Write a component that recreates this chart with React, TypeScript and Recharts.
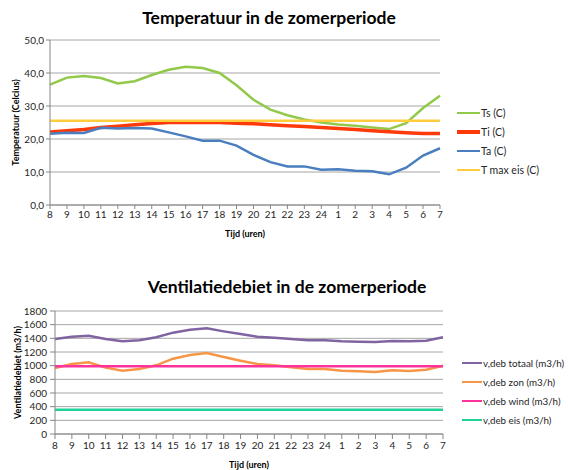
import React from "react";
import {
  LineChart,
  Line,
  XAxis,
  YAxis,
  CartesianGrid,
} from "recharts";

const hours = [
  "8", "9", "10", "11", "12", "13", "14", "15", "16", "17", "18", "19",
  "20", "21", "22", "23", "24", "1", "2", "3", "4", "5", "6", "7",
];

const ts = [
  36.5, 38.6, 39.1, 38.5, 36.8, 37.5, 39.4, 41.0, 41.9, 41.5, 40.0, 36.3,
  31.9, 28.9, 27.2, 25.9, 25.0, 24.4, 24.0, 23.5, 23.0, 24.8, 29.4, 33.1,
];
const ti = [
  22.1, 22.5, 22.9, 23.5, 23.9, 24.3, 24.7, 25.0, 25.0, 25.0, 25.0, 24.8,
  24.6, 24.3, 24.0, 23.8, 23.5, 23.2, 22.9, 22.5, 22.2, 21.9, 21.7, 21.7,
];
const ta = [
  21.6, 21.9, 21.8, 23.4, 23.2, 23.3, 23.2, 22.0, 20.8, 19.5, 19.5, 18.0,
  15.2, 13.0, 11.7, 11.7, 10.7, 10.8, 10.4, 10.2, 9.3, 11.3, 15.0, 17.2,
];
const tMaxEis = 25.5;

const debTotaal = [
  1390, 1424, 1439, 1390, 1356, 1371, 1415, 1483, 1527, 1546, 1502, 1463,
  1424, 1410, 1390, 1371, 1371, 1356, 1351, 1346, 1361, 1356, 1366, 1415,
];
const debZon = [
  966, 1024, 1049, 971, 927, 951, 1005, 1102, 1156, 1185, 1127, 1073,
  1024, 1005, 976, 951, 951, 927, 917, 907, 932, 922, 941, 1000,
];
const debWind = 990;
const debEis = 356;

const tempTicks = [0, 10, 20, 30, 40, 50];
const debTicks = [0, 200, 400, 600, 800, 1000, 1200, 1400, 1600, 1800];

const tempSeries = [
  { key: "ts", name: "Ts (C)", color: "#92c94a", width: 2.5 },
  { key: "ti", name: "Ti (C)", color: "#ff3a0a", width: 3.5 },
  { key: "ta", name: "Ta (C)", color: "#4a7ebf", width: 2.5 },
  { key: "tmax", name: "T max eis (C)", color: "#ffcc3e", width: 2.5 },
];
const debSeries = [
  { key: "totaal", name: "v,deb totaal (m3/h)", color: "#8064a2", width: 2.5 },
  { key: "zon", name: "v,deb zon (m3/h)", color: "#f79646", width: 2.5 },
  { key: "wind", name: "v,deb wind (m3/h)", color: "#ff3399", width: 2.5 },
  { key: "eis", name: "v,deb eis (m3/h)", color: "#1fd29a", width: 2.5 },
];

const tempData = hours.map((h, i) => ({
  hour: h,
  ts: ts[i],
  ti: ti[i],
  ta: ta[i],
  tmax: tMaxEis,
}));
const debData = hours.map((h, i) => ({
  hour: h,
  totaal: debTotaal[i],
  zon: debZon[i],
  wind: debWind,
  eis: debEis,
}));

const font = "Lato, 'Open Sans', sans-serif";
const axisColor = "#868686";
const gridColor = "#a6a6a6";
const textColor = "#262626";

type Series = { key: string; name: string; color: string; width: number };

const Legend = ({
  items,
  left,
  top,
  gap,
  lineLen,
  fontSize,
}: {
  items: Series[];
  left: number;
  top: number;
  gap: number;
  lineLen: number;
  fontSize: number;
}) => (
  <div style={{ position: "absolute", left, top }}>
    {items.map((s, i) => (
      <div
        key={s.key}
        style={{
          position: "absolute",
          top: i * gap - 7,
          left: 0,
          display: "flex",
          alignItems: "center",
          whiteSpace: "nowrap",
          height: 14,
        }}
      >
        <div
          style={{
            width: lineLen,
            height: s.width,
            background: s.color,
            marginRight: 1,
          }}
        />
        <span style={{ fontSize, color: textColor, fontFamily: font }}>
          {s.name}
        </span>
      </div>
    ))}
  </div>
);

const Title = ({ text, cx, cy }: { text: string; cx: number; cy: number }) => (
  <div
    style={{
      position: "absolute",
      left: cx - 200,
      width: 400,
      top: cy - 11,
      textAlign: "center",
      fontFamily: font,
      fontWeight: "bold",
      fontSize: 17.5,
      lineHeight: "22px",
      color: "#000",
    }}
  >
    {text}
  </div>
);

const tickStyle = { fontSize: 10, fill: textColor, fontFamily: font };
const labelStyle = {
  fontSize: 9,
  fontWeight: "bold",
  fill: "#000",
  fontFamily: font,
  textAnchor: "middle" as const,
};

export default function App() {
  return (
    <div
      style={{
        position: "absolute",
        left: 0,
        top: 0,
        width: 568,
        height: 470,
        background: "#fff",
        fontFamily: font,
        overflow: "hidden",
      }}
    >
      <Title text="Temperatuur in de zomerperiode" cx={269} cy={18} />
      <div style={{ position: "absolute", left: 0, top: 0 }}>
        <LineChart
          width={568}
          height={240}
          data={tempData}
          margin={{ top: 40, right: 128, bottom: 0, left: 0 }}
        >
          <CartesianGrid vertical={false} stroke={gridColor} />
          <XAxis
            dataKey="hour"
            interval={0}
            height={35}
            tick={tickStyle}
            tickSize={4}
            tickMargin={2}
            stroke={axisColor}
            label={{
              value: "Tijd (uren)",
              position: "insideBottom",
              offset: 3,
              style: labelStyle,
            }}
          />
          <YAxis
            width={50}
            domain={[0, 50]}
            ticks={tempTicks}
            interval={0}
            tickFormatter={(v: number) => v.toFixed(1).replace(".", ",")}
            tick={tickStyle}
            tickSize={4}
            tickMargin={2}
            stroke={axisColor}
            label={{
              value: "Temperatuur (Celcius)",
              angle: -90,
              position: "insideLeft",
              offset: 16,
              style: labelStyle,
            }}
          />
          {tempSeries.map((s) => (
            <Line
              key={s.key}
              dataKey={s.key}
              name={s.name}
              stroke={s.color}
              strokeWidth={s.width}
              dot={false}
              type="linear"
              isAnimationActive={false}
            />
          ))}
        </LineChart>
      </div>
      <Legend
        items={tempSeries}
        left={457}
        top={113}
        gap={19}
        lineLen={23}
        fontSize={10.5}
      />

      <Title text="Ventilatiedebiet in de zomerperiode" cx={287} cy={287} />
      <div style={{ position: "absolute", left: 0, top: 250 }}>
        <LineChart
          width={568}
          height={220}
          data={debData}
          margin={{ top: 61, right: 125, bottom: 0, left: 0 }}
        >
          <CartesianGrid vertical={false} stroke={gridColor} />
          <XAxis
            dataKey="hour"
            interval={0}
            height={36}
            tick={tickStyle}
            tickSize={5}
            tickMargin={3}
            stroke={axisColor}
            label={{
              value: "Tijd (uren)",
              position: "insideBottom",
              offset: 2,
              style: labelStyle,
            }}
          />
          <YAxis
            width={55}
            domain={[0, 1800]}
            ticks={debTicks}
            interval={0}
            tick={tickStyle}
            tickSize={5}
            tickMargin={3}
            stroke={axisColor}
            label={{
              value: "Ventilatiedebiet (m3/h)",
              angle: -90,
              position: "insideLeft",
              offset: 18,
              style: labelStyle,
            }}
          />
          {debSeries.map((s) => (
            <Line
              key={s.key}
              dataKey={s.key}
              name={s.name}
              stroke={s.color}
              strokeWidth={s.width}
              dot={false}
              type="linear"
              isAnimationActive={false}
            />
          ))}
        </LineChart>
      </div>
      <Legend
        items={debSeries}
        left={462}
        top={363}
        gap={19}
        lineLen={20}
        fontSize={9.8}
      />
    </div>
  );
}
